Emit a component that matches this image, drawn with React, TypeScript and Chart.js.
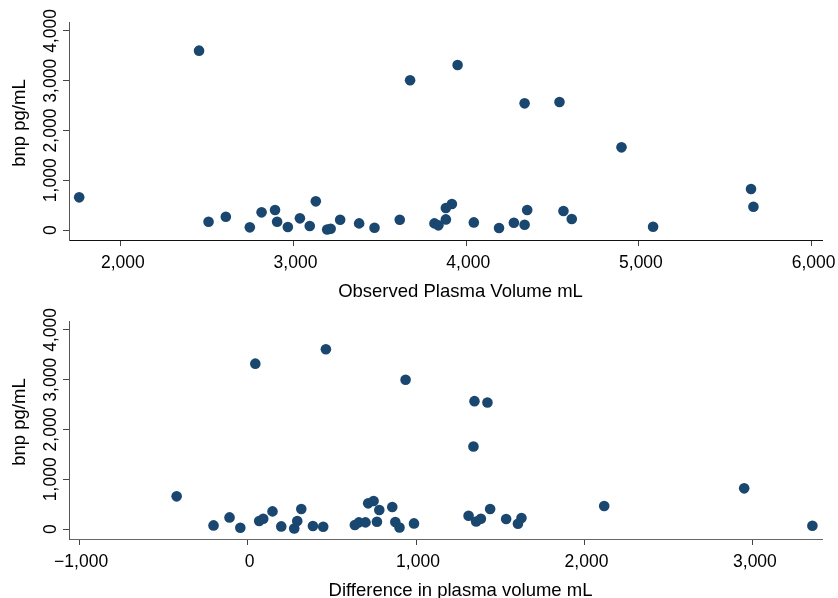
import React, { useEffect, useRef } from "react";
import { Chart, registerables } from "chart.js";

Chart.register(...registerables);

// ---- Data ----
const observedPV = [
  1759, 2453, 2508, 2608, 2747, 2815, 2893, 2905, 2967, 3037, 3094, 3129, 3195,
  3215, 3270, 3380, 3469, 3615, 3675, 3950, 4338, 4540, 4899, 5649, 5663, 3816,
  3839, 3882, 3882, 3917, 4044, 4190, 4276, 4338, 4353, 4563, 4611, 5082,
];
const bnpTop = [
  657, 3604, 167, 268, 54, 356, 402, 167, 60, 235, 80, 577, 10,
  26, 207, 134, 46, 207, 3009, 3317, 2546, 2573, 1662, 824, 469, 134,
  94, 214, 442, 523, 154, 40, 147, 107, 402, 382, 221, 67,
];

const pvDifference = [
  -421, -202, -107, -43, 46, 69, 93, 148, 200, 277, 295, 319, 388, 449, 465,
  637, 661, 700, 716, 748, 768, 782, 859, 877, 902, 938, 988, 1347, 1424, 1341,
  1312, 1357, 1385, 1440, 1535, 1605, 1626, 2117, 2948, 3353,
];
const bnpBottom = [
  657, 73, 234, 26, 3323, 161, 207, 355, 53, 10, 161, 403, 60, 46, 3611,
  80, 134, 134, 516, 564, 147, 383, 443, 141, 32, 3001, 113, 2570, 2544, 1658,
  268, 153, 207, 403, 201, 107, 221, 463, 818, 66,
];

const yTicks = [0, 1000, 2000, 3000, 4000];
const xTicksTop = [2000, 3000, 4000, 5000, 6000];
const xTicksBottom = [-1000, 0, 1000, 2000, 3000];

const yTitle = "bnp pg/mL";
const xTitleTop = "Observed Plasma Volume mL";
const xTitleBottom = "Difference in plasma volume mL";

const MARKER = "#1a476f";
const FONT = '"Liberation Sans", Arial, Helvetica, sans-serif';

const fmt = (v: number) => {
  const s = Math.abs(v).toLocaleString("en-US");
  return v < 0 ? "\u2212" + s : s;
};

function makeTextPlugin(xTitle: string) {
  return {
    id: "stataText",
    afterDraw(chart: any) {
      const { ctx, chartArea, scales } = chart;
      const xs = scales.x;
      const ys = scales.y;
      ctx.save();
      ctx.fillStyle = "#000";
      ctx.textAlign = "center";
      ctx.textBaseline = "alphabetic";
      ctx.font = `17.5px ${FONT}`;
      for (const t of xs.ticks) {
        const px = xs.getPixelForValue(t.value);
        ctx.fillText(fmt(t.value), px + 2, chartArea.bottom + 28);
      }
      for (const t of ys.ticks) {
        const py = ys.getPixelForValue(t.value);
        ctx.save();
        ctx.translate(chartArea.left - 13, py);
        ctx.rotate(-Math.PI / 2);
        ctx.fillText(fmt(t.value), 0, 0);
        ctx.restore();
      }
      ctx.font = `18.5px ${FONT}`;
      ctx.fillText(
        xTitle,
        (chartArea.left + chartArea.right) / 2 + 15,
        chartArea.bottom + 56.5
      );
      ctx.save();
      ctx.translate(chartArea.left - 44.5, (chartArea.top + chartArea.bottom) / 2 - 8);
      ctx.rotate(-Math.PI / 2);
      ctx.fillText(yTitle, 0, 0);
      ctx.restore();
      ctx.restore();
    },
  };
}

type PanelProps = {
  xs: number[];
  ys: number[];
  xMin: number;
  xMax: number;
  xTicks: number[];
  xTitle: string;
  xAxisColor: string;
  top: number;
};

function Panel({ xs, ys, xMin, xMax, xTicks, xTitle, xAxisColor, top }: PanelProps) {
  const ref = useRef<HTMLCanvasElement | null>(null);
  useEffect(() => {
    if (!ref.current) return;
    const chart = new Chart(ref.current, {
      type: "scatter",
      data: {
        datasets: [
          {
            data: xs.map((x, i) => ({ x, y: ys[i] })),
            backgroundColor: MARKER,
            borderColor: MARKER,
            borderWidth: 0,
            pointRadius: 5.3,
            pointHoverRadius: 5.3,
          },
        ],
      },
      options: {
        responsive: false,
        animation: false,
        devicePixelRatio: 1,
        clip: false as any,
        layout: { padding: { left: 63, right: 16, top: 22, bottom: 53 } },
        plugins: {
          legend: { display: false },
          tooltip: { enabled: false },
          title: { display: false },
        },
        scales: {
          x: {
            type: "linear",
            min: xMin,
            max: xMax,
            afterBuildTicks: (axis: any) => {
              axis.ticks = xTicks.map((v) => ({ value: v }));
            },
            ticks: { display: false },
            grid: {
              display: true,
              drawOnChartArea: false,
              drawTicks: true,
              tickLength: 6,
              color: "#444",
              lineWidth: 1,
            },
            border: { display: true, color: xAxisColor, width: 1 },
          },
          y: {
            type: "linear",
            min: -200,
            max: 4180,
            afterBuildTicks: (axis: any) => {
              axis.ticks = yTicks.map((v) => ({ value: v }));
            },
            ticks: { display: false },
            grid: {
              display: true,
              drawOnChartArea: false,
              drawTicks: true,
              tickLength: 6,
              color: "#444",
              lineWidth: 1,
            },
            border: { display: true, color: "#555", width: 1 },
          },
        },
      },
      plugins: [makeTextPlugin(xTitle)],
    });
    return () => chart.destroy();
  }, []);
  return (
    <canvas
      ref={ref}
      width={838}
      height={299}
      style={{ position: "absolute", left: 0, top, width: 838, height: 299 }}
    />
  );
}

export default function App() {
  return (
    <div
      style={{
        position: "absolute",
        left: 0,
        top: 0,
        width: 838,
        height: 598,
        background: "#fff",
        overflow: "hidden",
      }}
    >
      <Panel
        xs={observedPV}
        ys={bnpTop}
        xMin={1700}
        xMax={6060}
        xTicks={xTicksTop}
        xTitle={xTitleTop}
        xAxisColor="#111"
        top={0}
      />
      <Panel
        xs={pvDifference}
        ys={bnpBottom}
        xMin={-1060}
        xMax={3410}
        xTicks={xTicksBottom}
        xTitle={xTitleBottom}
        xAxisColor="#666"
        top={299}
      />
    </div>
  );
}
